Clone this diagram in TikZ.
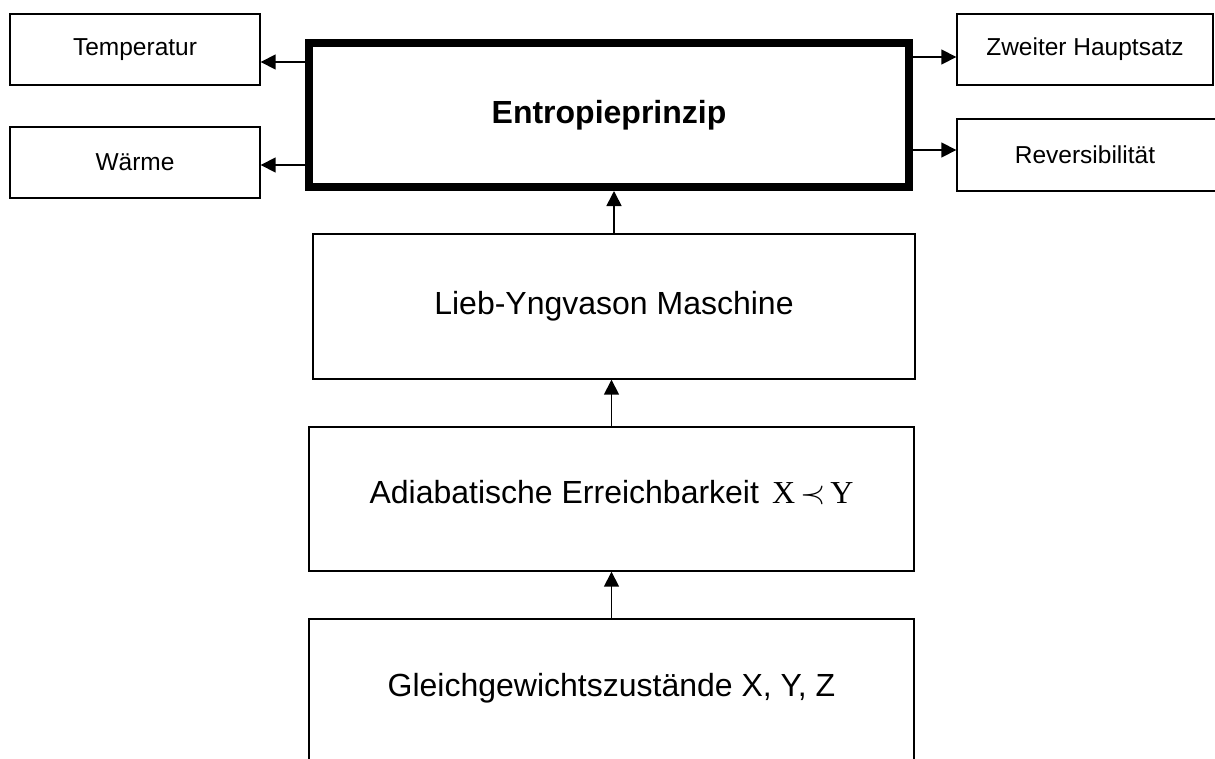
\documentclass[tikz,border=0pt]{standalone}
\usepackage{fontspec}
\setmainfont{Liberation Sans}
\newfontfamily\serif{Liberation Serif}
\usetikzlibrary{arrows.meta}

\begin{document}
\begin{tikzpicture}[x=1pt, y=-1pt,
    box/.style={draw, line width=1.4pt, inner sep=0pt,
      font=\fontsize{24.5}{28}\selectfont},
    bigbox/.style={box, font=\fontsize{32}{36}\selectfont}]
    \useasboundingbox (0,0) rectangle (1215,758);
    \clip (0,0) rectangle (1215,758);
    % centre
    \node[bigbox, line width=8pt, minimum width=600pt, minimum height=144pt]
      (E) at (609,115) {\textbf{Entropieprinzip}};
    % left and right
    \node[box, minimum width=250pt, minimum height=71pt] (T) at (135,49.5) {Temperatur};
    \node[box, minimum width=250pt, minimum height=71pt] (W) at (135,162.5) {Wärme};
    \node[box, minimum width=256pt, minimum height=71pt] (Z) at (1085,49.5) {Zweiter Hauptsatz};
    \node[box, minimum width=268pt, minimum height=72pt] (R) at (1091,155)
      {\hspace*{-12pt}Reversibilität};
    % below
    \node[bigbox, minimum width=602pt, minimum height=145pt] (L) at (614,306.5)
      {Lieb-Yngvason Maschine};
    \node[bigbox, minimum width=605pt, minimum height=144pt, text depth=14pt]
      (A) at (611.5,499)
      {Adiabatische Erreichbarkeit\hspace{13pt}{\serif X}\hspace{5pt}%
       {\fontsize{38}{40}\selectfont\scalebox{1.3}{$\prec$}}\hspace{5pt}{\serif Y}};
    \node[bigbox, minimum width=605pt, minimum height=170pt, text depth=38pt]
      (G) at (611.5,704) {Gleichgewichtszustände X, Y, Z};
    \begin{scope}[-{Triangle[length=15pt,width=15pt]}, line width=1.6pt]
      \draw ([yshift=-12.5pt]T.east -| E.west) -- ([yshift=-12.5pt]T.east) ;
      \draw ([yshift=-2.5pt]W.east -| E.west) -- ([yshift=-2.5pt]W.east) ;
      \draw ([yshift=-7.5pt]Z.west -| E.east) -- ([yshift=-7.5pt]Z.west) ;
      \draw ([yshift=5pt]R.west -| E.east) -- ([yshift=5pt]R.west) ;
      \draw (L.north) -- (L.north |- E.south) ;
      \draw (A.north) -- (A.north |- L.south) ;
      \draw (G.north) -- (G.north |- A.south) ;
    \end{scope}
  \end{tikzpicture}
\end{document}
